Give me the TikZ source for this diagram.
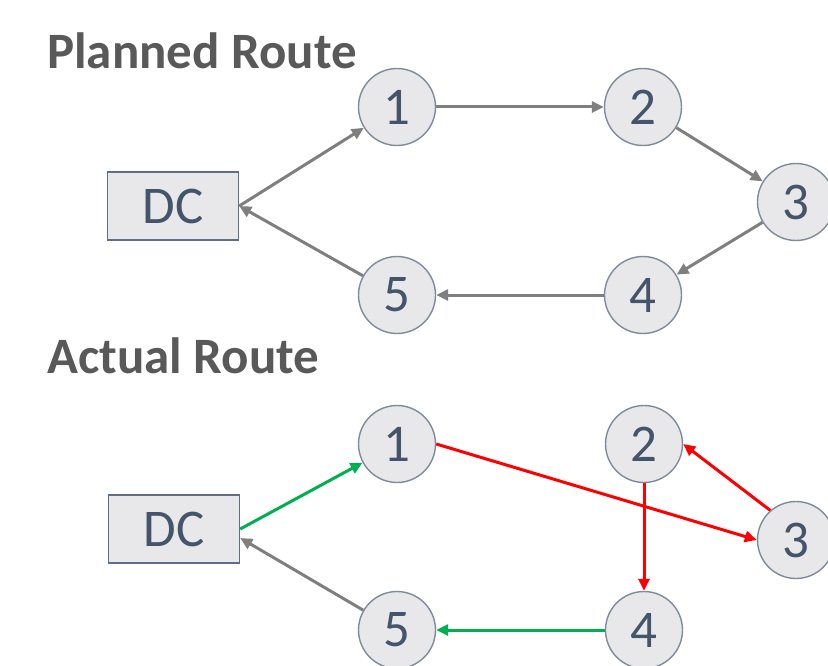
\documentclass[tikz,border=0pt]{standalone}
\usepackage{fontspec}
\setmainfont{Carlito}
\usetikzlibrary{arrows.meta}
\definecolor{titlegray}{HTML}{595959}
\definecolor{nodetext}{HTML}{44546A}
\definecolor{nodeborder}{HTML}{7F8B9B}
\definecolor{boxborder}{HTML}{5F6E85}
\definecolor{nodefill}{HTML}{E8E8EA}
\definecolor{arrgray}{HTML}{7F7F7F}
\definecolor{arrred}{HTML}{FF0000}
\definecolor{arrgreen}{HTML}{00B050}
\tikzset{
  stop/.style={circle, draw=nodeborder, line width=1.4pt, fill=nodefill, minimum size=77pt, inner sep=0pt,
    text=nodetext, font=\fontsize{53}{53}\selectfont},
  dcbox/.style={rectangle, draw=boxborder, line width=1.4pt, fill=nodefill, minimum width=131pt, minimum height=68pt,
    inner sep=0pt, text=nodetext, font=\fontsize{53}{53}\selectfont},
  title/.style={anchor=base west, inner sep=0pt, text=titlegray, font=\fontsize{51}{51}\selectfont\bfseries},
  conn/.style={line width=3pt, -{Triangle[length=12pt,width=11pt]}},
}
\begin{document}
\begin{tikzpicture}[x=1pt,y=-1pt]
\useasboundingbox (0,0) rectangle (828,666);
% Planned route
\node[title] (t1) at (47,69) {Planned Route};
\node[dcbox] (dca) at (173,206) {DC};
\node[stop] (a1) at (397,107) {1};
\node[stop] (a2) at (643,107) {2};
\node[stop] (a3) at (796,202) {3};
\node[stop] (a4) at (643,295) {4};
\node[stop] (a5) at (397,295) {5};
\draw[conn, arrgray] (dca.east) -- (a1);
\draw[conn, arrgray] (a1) -- (a2);
\draw[conn, arrgray] (a2) -- (a3);
\draw[conn, arrgray] (a3) -- (a4);
\draw[conn, arrgray] (a4) -- (a5);
\draw[conn, arrgray] (a5) -- (dca.east);
% Actual route
\node[title] (t2) at (47,373) {Actual Route};
\node[dcbox] (dcb) at (174,529) {DC};
\node[stop] (b1) at (397,444) {1};
\node[stop] (b2) at (644,444) {2};
\node[stop] (b3) at (796,540) {3};
\node[stop] (b4) at (644,630) {4};
\node[stop] (b5) at (397,630) {5};
\coordinate (dcin) at ([yshift=-9pt]dcb.east);
\draw[conn, arrgreen] (dcb.east) -- (b1);
\draw[conn, arrred] (b1.east) -- (b3.west);
\draw[conn, arrred] (b3.131) -- (b2.east);
\draw[conn, arrred] (b2.south) -- (b4.north);
\draw[conn, arrgreen] (b4.west) -- (b5.east);
\draw[conn, arrgray] (b5) -- (dcin);
\end{tikzpicture}
\end{document}
